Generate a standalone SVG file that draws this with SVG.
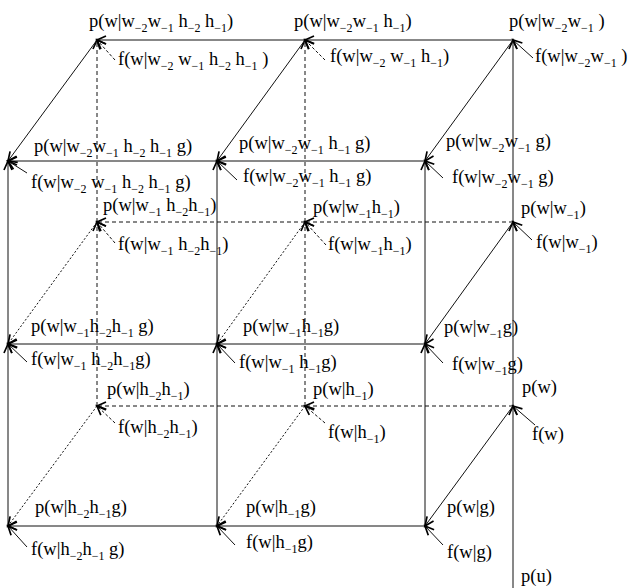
<svg xmlns="http://www.w3.org/2000/svg" width="629" height="588" viewBox="0 0 629 588">
<style>
text{font-family:"Liberation Serif","Times New Roman",serif;font-size:18.5px;fill:#000}
.s{font-size:12px}
.e{stroke:#111;stroke-width:1;fill:none;marker-end:url(#ah)}
.d{stroke-dasharray:4 3}
.o{stroke-dasharray:2 2}
.f{stroke-dasharray:3 2}
</style>
<defs>
<marker id="ah" markerUnits="userSpaceOnUse" markerWidth="14" markerHeight="14" refX="10" refY="7" orient="auto" overflow="visible">
<path d="M1,3 L10,7 L1,11" fill="none" stroke="#000" stroke-width="1.7"/>
</marker>
</defs>
<rect width="629" height="588" fill="#fff"/>
<g id="connectors">
<line class="e" x1="513" y1="588" x2="513" y2="406"/>
<line class="e" x1="513" y1="406" x2="513" y2="222"/>
<line class="e" x1="513" y1="222" x2="513" y2="40"/>
<line class="e" x1="513" y1="40" x2="305" y2="40"/>
<line class="e" x1="305" y1="40" x2="97" y2="40"/>
<line class="e d" x1="513" y1="222" x2="305" y2="222"/>
<line class="e d" x1="305" y1="222" x2="97" y2="222"/>
<line class="e d" x1="513" y1="406" x2="305" y2="406"/>
<line class="e d" x1="305" y1="406" x2="97" y2="406"/>
<line class="e d" x1="97" y1="406" x2="97" y2="222"/>
<line class="e d" x1="97" y1="222" x2="97" y2="40"/>
<line class="e d" x1="305" y1="406" x2="305" y2="222"/>
<line class="e d" x1="305" y1="222" x2="305" y2="40"/>
<line class="e" x1="425" y1="161" x2="217" y2="161"/>
<line class="e" x1="217" y1="161" x2="8" y2="161"/>
<line class="e" x1="425" y1="344" x2="217" y2="344"/>
<line class="e" x1="217" y1="344" x2="8" y2="344"/>
<line class="e" x1="425" y1="526" x2="217" y2="526"/>
<line class="e" x1="217" y1="526" x2="8" y2="526"/>
<line class="e" x1="8" y1="526" x2="8" y2="344"/>
<line class="e" x1="8" y1="344" x2="8" y2="161"/>
<line class="e" x1="217" y1="526" x2="217" y2="344"/>
<line class="e" x1="217" y1="344" x2="217" y2="161"/>
<line class="e" x1="425" y1="526" x2="425" y2="344"/>
<line class="e" x1="425" y1="344" x2="425" y2="161"/>
<line class="e" x1="513" y1="40" x2="425" y2="161"/>
<line class="e" x1="305" y1="40" x2="217" y2="161"/>
<line class="e" x1="97" y1="40" x2="8" y2="161"/>
<line class="e" x1="513" y1="222" x2="425" y2="344"/>
<line class="e o" x1="305" y1="222" x2="217" y2="344"/>
<line class="e o" x1="97" y1="222" x2="8" y2="344"/>
<line class="e" x1="513" y1="406" x2="425" y2="526"/>
<line class="e o" x1="305" y1="406" x2="217" y2="526"/>
<line class="e o" x1="97" y1="406" x2="8" y2="526"/>
<line class="e f" x1="115" y1="60" x2="97" y2="40"/>
<line class="e" x1="27" y1="173" x2="8" y2="161"/>
<line class="e f" x1="325" y1="60" x2="305" y2="40"/>
<line class="e" x1="237" y1="180" x2="217" y2="161"/>
<line class="e" x1="533" y1="58" x2="513" y2="40"/>
<line class="e" x1="443" y1="178" x2="425" y2="161"/>
<line class="e f" x1="115" y1="243" x2="97" y2="222"/>
<line class="e" x1="27" y1="362" x2="8" y2="344"/>
<line class="e f" x1="326" y1="245" x2="305" y2="222"/>
<line class="e" x1="235" y1="363" x2="217" y2="344"/>
<line class="e" x1="532" y1="240" x2="513" y2="222"/>
<line class="e" x1="443" y1="363" x2="425" y2="344"/>
<line class="e f" x1="115" y1="423" x2="97" y2="406"/>
<line class="e" x1="27" y1="547" x2="8" y2="526"/>
<line class="e f" x1="325" y1="423" x2="305" y2="406"/>
<line class="e" x1="235" y1="545" x2="217" y2="526"/>
<line class="e" x1="535" y1="425" x2="513" y2="406"/>
<line class="e" x1="443" y1="545" x2="425" y2="526"/>
</g>
<g id="n-w2w1h2h1">
<text x="89" y="27">p(w|w<tspan class="s" dy="5">−2</tspan><tspan dy="-5">w</tspan><tspan class="s" dy="5">−1</tspan><tspan dy="-5"> h</tspan><tspan class="s" dy="5">−2</tspan><tspan dy="-5"> h</tspan><tspan class="s" dy="5">−1</tspan><tspan dy="-5">)</tspan></text>
<text x="118" y="65">f(w|w<tspan class="s" dy="5">−2</tspan><tspan dy="-5"> w</tspan><tspan class="s" dy="5">−1</tspan><tspan dy="-5"> h</tspan><tspan class="s" dy="5">−2</tspan><tspan dy="-5"> h</tspan><tspan class="s" dy="5">−1</tspan><tspan dy="-5"> )</tspan></text>
</g>
<g id="n-w2w1h1">
<text x="294" y="27">p(w|w<tspan class="s" dy="5">−2</tspan><tspan dy="-5">w</tspan><tspan class="s" dy="5">−1</tspan><tspan dy="-5"> h</tspan><tspan class="s" dy="5">−1</tspan><tspan dy="-5">)</tspan></text>
<text x="330" y="62">f(w|w<tspan class="s" dy="5">−2</tspan><tspan dy="-5"> w</tspan><tspan class="s" dy="5">−1</tspan><tspan dy="-5"> h</tspan><tspan class="s" dy="5">−1</tspan><tspan dy="-5">)</tspan></text>
</g>
<g id="n-w2w1">
<text x="509" y="27">p(w|w<tspan class="s" dy="5">−2</tspan><tspan dy="-5">w</tspan><tspan class="s" dy="5">−1</tspan><tspan dy="-5"> )</tspan></text>
<text x="535" y="62">f(w|w<tspan class="s" dy="5">−2</tspan><tspan dy="-5">w</tspan><tspan class="s" dy="5">−1</tspan><tspan dy="-5"> )</tspan></text>
</g>
<g id="n-w2w1h2h1g">
<text x="34" y="152">p(w|w<tspan class="s" dy="5">−2</tspan><tspan dy="-5">w</tspan><tspan class="s" dy="5">−1</tspan><tspan dy="-5"> h</tspan><tspan class="s" dy="5">−2</tspan><tspan dy="-5"> h</tspan><tspan class="s" dy="5">−1</tspan><tspan dy="-5"> g)</tspan></text>
<text x="31" y="188">f(w|w<tspan class="s" dy="5">−2</tspan><tspan dy="-5"> w</tspan><tspan class="s" dy="5">−1</tspan><tspan dy="-5"> h</tspan><tspan class="s" dy="5">−2</tspan><tspan dy="-5"> h</tspan><tspan class="s" dy="5">−1</tspan><tspan dy="-5"> g)</tspan></text>
</g>
<g id="n-w2w1h1g">
<text x="239" y="149">p(w|w<tspan class="s" dy="5">−2</tspan><tspan dy="-5">w</tspan><tspan class="s" dy="5">−1</tspan><tspan dy="-5"> h</tspan><tspan class="s" dy="5">−1</tspan><tspan dy="-5"> g)</tspan></text>
<text x="243" y="182">f(w|w<tspan class="s" dy="5">−2</tspan><tspan dy="-5">w</tspan><tspan class="s" dy="5">−1</tspan><tspan dy="-5"> h</tspan><tspan class="s" dy="5">−1</tspan><tspan dy="-5"> g)</tspan></text>
</g>
<g id="n-w2w1g">
<text x="446" y="147">p(w|w<tspan class="s" dy="5">−2</tspan><tspan dy="-5">w</tspan><tspan class="s" dy="5">−1</tspan><tspan dy="-5"> g)</tspan></text>
<text x="452" y="183">f(w|w<tspan class="s" dy="5">−2</tspan><tspan dy="-5">w</tspan><tspan class="s" dy="5">−1</tspan><tspan dy="-5"> g)</tspan></text>
</g>
<g id="n-w1h2h1">
<text x="103" y="211">p(w|w<tspan class="s" dy="5">−1</tspan><tspan dy="-5"> h</tspan><tspan class="s" dy="5">−2</tspan><tspan dy="-5">h</tspan><tspan class="s" dy="5">−1</tspan><tspan dy="-5">)</tspan></text>
<text x="118" y="250">f(w|w<tspan class="s" dy="5">−1</tspan><tspan dy="-5"> h</tspan><tspan class="s" dy="5">−2</tspan><tspan dy="-5">h</tspan><tspan class="s" dy="5">−1</tspan><tspan dy="-5">)</tspan></text>
</g>
<g id="n-w1h1">
<text x="313" y="213">p(w|w<tspan class="s" dy="5">−1</tspan><tspan dy="-5">h</tspan><tspan class="s" dy="5">−1</tspan><tspan dy="-5">)</tspan></text>
<text x="328" y="250">f(w|w<tspan class="s" dy="5">−1</tspan><tspan dy="-5">h</tspan><tspan class="s" dy="5">−1</tspan><tspan dy="-5">)</tspan></text>
</g>
<g id="n-w1">
<text x="521" y="214">p(w|w<tspan class="s" dy="5">−1</tspan><tspan dy="-5">)</tspan></text>
<text x="536" y="248">f(w|w<tspan class="s" dy="5">−1</tspan><tspan dy="-5">)</tspan></text>
</g>
<g id="n-w1h2h1g">
<text x="31" y="332">p(w|w<tspan class="s" dy="5">−1</tspan><tspan dy="-5">h</tspan><tspan class="s" dy="5">−2</tspan><tspan dy="-5">h</tspan><tspan class="s" dy="5">−1</tspan><tspan dy="-5"> g)</tspan></text>
<text x="31" y="365">f(w|w<tspan class="s" dy="5">−1</tspan><tspan dy="-5"> h</tspan><tspan class="s" dy="5">−2</tspan><tspan dy="-5">h</tspan><tspan class="s" dy="5">−1</tspan><tspan dy="-5">g)</tspan></text>
</g>
<g id="n-w1h1g">
<text x="243" y="332">p(w|w<tspan class="s" dy="5">−1</tspan><tspan dy="-5">h</tspan><tspan class="s" dy="5">−1</tspan><tspan dy="-5">g)</tspan></text>
<text x="239" y="368">f(w|w<tspan class="s" dy="5">−1</tspan><tspan dy="-5"> h</tspan><tspan class="s" dy="5">−1</tspan><tspan dy="-5">g)</tspan></text>
</g>
<g id="n-w1g">
<text x="444" y="333">p(w|w<tspan class="s" dy="5">−1</tspan><tspan dy="-5">g)</tspan></text>
<text x="452" y="370">f(w|w<tspan class="s" dy="5">−1</tspan><tspan dy="-5">g)</tspan></text>
</g>
<g id="n-h2h1">
<text x="107" y="395">p(w|h<tspan class="s" dy="5">−2</tspan><tspan dy="-5">h</tspan><tspan class="s" dy="5">−1</tspan><tspan dy="-5">)</tspan></text>
<text x="118" y="433">f(w|h<tspan class="s" dy="5">−2</tspan><tspan dy="-5">h</tspan><tspan class="s" dy="5">−1</tspan><tspan dy="-5">)</tspan></text>
</g>
<g id="n-h1">
<text x="313" y="395">p(w|h<tspan class="s" dy="5">−1</tspan><tspan dy="-5">)</tspan></text>
<text x="328" y="438">f(w|h<tspan class="s" dy="5">−1</tspan><tspan dy="-5">)</tspan></text>
</g>
<g id="n-w">
<text x="522" y="393">p(w)</text>
<text x="532" y="440">f(w)</text>
</g>
<g id="n-h2h1g">
<text x="35" y="513">p(w|h<tspan class="s" dy="5">−2</tspan><tspan dy="-5">h</tspan><tspan class="s" dy="5">−1</tspan><tspan dy="-5">g)</tspan></text>
<text x="31" y="555">f(w|h<tspan class="s" dy="5">−2</tspan><tspan dy="-5">h</tspan><tspan class="s" dy="5">−1</tspan><tspan dy="-5"> g)</tspan></text>
</g>
<g id="n-h1g">
<text x="246" y="513">p(w|h<tspan class="s" dy="5">−1</tspan><tspan dy="-5">g)</tspan></text>
<text x="246" y="548">f(w|h<tspan class="s" dy="5">−1</tspan><tspan dy="-5">g)</tspan></text>
</g>
<g id="n-g">
<text x="447" y="513">p(w|g)</text>
<text x="447" y="558">f(w|g)</text>
</g>
<g id="n-u">
<text x="521" y="582">p(u)</text>
</g>
</svg>
